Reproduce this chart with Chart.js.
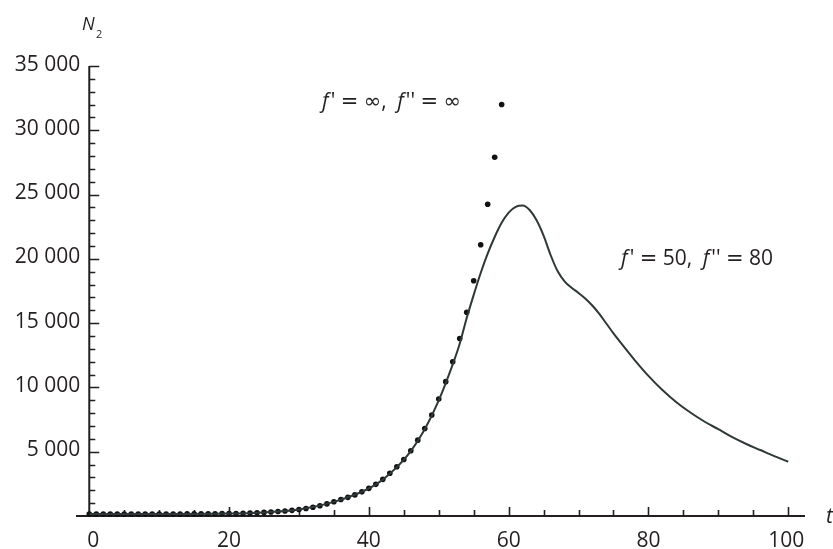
<!DOCTYPE html>
<html>
<head>
<meta charset="utf-8">
<script src="https://cdn.jsdelivr.net/npm/chart.js@4"></script>
<style>
html, body { margin: 0; padding: 0; background: #fff; }
canvas { display: block; }
</style>
</head>
<body>
<canvas id="chart" width="833" height="549"></canvas>
<script>
// f' = inf, f'' = inf  (dots, one per time step)
const dotT = [0, 1, 2, 3, 4, 5, 6, 7, 8, 9, 10, 11, 12, 13, 14, 15, 16, 17, 18, 19,
    20, 21, 22, 23, 24, 25, 26, 27, 28, 29, 30, 31, 32, 33, 34, 35, 36, 37, 38, 39,
    40, 41, 42, 43, 44, 45, 46, 47, 48, 49, 50, 51, 52, 53, 54, 55, 56, 57, 58, 59];
const dotN = [150, 150, 150, 150, 150, 150, 150, 150, 150, 150, 155, 155, 160, 160, 165, 165, 170, 175, 180, 185,
    190, 200, 215, 230, 250, 280, 310, 345, 390, 440, 500, 580, 680, 800, 940, 1110, 1280, 1450, 1640, 1880,
    2150, 2460, 2850, 3320, 3830, 4400, 5080, 5900, 6800, 7850, 9100, 10450, 12000, 13800, 15850, 18300, 21100, 24250, 27900, 32000];

// f' = 50, f'' = 80  (solid curve)
const lineT = [0, 10, 20, 25, 30, 35, 40, 42, 44, 46, 48, 50, 52, 53, 54, 55, 56, 57, 58, 59,
    60, 61, 62, 63, 64, 65, 66, 67, 68, 69, 70, 71, 72, 73, 74, 75, 76, 78, 80, 82,
    84, 86, 88, 90, 92, 94, 96, 98, 100];
const lineN = [150, 155, 190, 280, 500, 1100, 2140, 2830, 3800, 5050, 6750, 9000, 11800, 13400, 15400, 17200, 18900, 20400, 21700, 22800,
    23600, 24050, 24150, 23800, 23000, 21800, 20300, 19050, 18250, 17750, 17350, 16900, 16350, 15700, 14950, 14200, 13500, 12150, 10900, 9800,
    8850, 8050, 7350, 6750, 6130, 5600, 5130, 4660, 4220];

const xTicks = [0, 20, 40, 60, 80, 100];
const xTickLabels = ['0', '20', '40', '60', '80', '100'];
const yTicks = [5000, 10000, 15000, 20000, 25000, 30000, 35000];
const yTickLabels = ['5 000', '10 000', '15 000', '20 000', '25 000', '30 000', '35 000'];

const INK = '#231f20';
const FONT = '"Open Sans", "DejaVu Sans", sans-serif';
const MATH = '"DejaVu Sans", sans-serif';

function toPoints(xs, ys) {
    return xs.map((v, i) => ({ x: v, y: ys[i] }));
}

// mathematica-style axes crossing at the origin, ticks pointing inward
const axesPlugin = {
    id: 'axes',
    beforeDatasetsDraw(chart) {
        const { ctx, scales: { x, y } } = chart;
        const x0 = x.getPixelForValue(0);
        const y0 = y.getPixelForValue(0);
        ctx.save();
        ctx.strokeStyle = INK;
        ctx.lineWidth = 2;
        ctx.beginPath();
        ctx.moveTo(x.left, y0);
        ctx.lineTo(x.right, y0);
        ctx.moveTo(x0, y.getPixelForValue(35000));
        ctx.lineTo(x0, y0 + 1);
        ctx.stroke();

        ctx.lineWidth = 1.6;
        ctx.beginPath();
        for (let v = 5; v <= 100; v += 5) {
            const px = Math.round(x.getPixelForValue(v)) + 0.5;
            const len = v % 20 === 0 ? 9 : 6;
            ctx.moveTo(px, y0);
            ctx.lineTo(px, y0 - len);
        }
        for (let v = 1000; v <= 35000; v += 1000) {
            const py = Math.round(y.getPixelForValue(v)) + 0.5;
            const len = v % 5000 === 0 ? 10 : 6;
            ctx.moveTo(x0, py);
            ctx.lineTo(x0 + len, py);
        }
        ctx.stroke();

        ctx.fillStyle = INK;
        ctx.font = '21px ' + FONT;
        ctx.textAlign = 'right';
        ctx.textBaseline = 'alphabetic';
        yTicks.forEach((v, i) => {
            ctx.fillText(yTickLabels[i], x0 - 9, y.getPixelForValue(v) + 4.5);
        });
        ctx.textAlign = 'center';
        xTicks.forEach((v, i) => {
            const off = v === 0 ? 4 : (v === 100 ? -2 : 0);
            ctx.fillText(xTickLabels[i], x.getPixelForValue(v) + off, y0 + 30.5);
        });

        // axis names
        ctx.textAlign = 'left';
        ctx.font = 'italic 21px ' + FONT;
        ctx.fillText('t', 826, y0 + 7);
        ctx.font = 'italic 18px ' + FONT;
        ctx.fillText('N', 82, 30);
        ctx.font = '11px ' + FONT;
        ctx.fillText('2', 96, 38);
        ctx.restore();
    },
    afterDraw(chart) {
        const ctx = chart.ctx;
        const drawLabel = (parts, left, base) => {
            let cx = left;
            parts.forEach(([txt, style]) => {
                if (style === 'i') ctx.font = 'italic 21px ' + FONT;
                else if (style === 'm') ctx.font = '21px ' + MATH;
                else ctx.font = '21px ' + FONT;
                ctx.fillText(txt, cx, base);
                cx += ctx.measureText(txt).width;
            });
        };
        ctx.save();
        ctx.fillStyle = INK;
        ctx.textAlign = 'left';
        ctx.textBaseline = 'alphabetic';
        drawLabel([['f', 'i'], ["\u200A' ", ''], ['=', 'm'], [' ', ''], ['\u221E', 'm'], [',\u2002', ''],
            ['f', 'i'], ["\u200A'' ", ''], ['=', 'm'], [' ', ''], ['\u221E', 'm']], 322, 108);
        drawLabel([['f', 'i'], ["\u200A' ", ''], ['=', 'm'], [' ', ''], ['50', ''], [',\u2002', ''],
            ['f', 'i'], ["\u200A'' ", ''], ['=', 'm'], [' ', ''], ['80', '']], 621, 265);
        ctx.restore();
    }
};

new Chart(document.getElementById('chart'), {
    type: 'scatter',
    data: {
        datasets: [
            {
                label: "f' = 50, f'' = 80",
                data: toPoints(lineT, lineN),
                showLine: true,
                borderColor: '#2f3838',
                borderWidth: 2,
                pointRadius: 0,
                cubicInterpolationMode: 'monotone',
                clip: false
            },
            {
                label: "f' = \u221E, f'' = \u221E",
                data: toPoints(dotT, dotN),
                showLine: false,
                backgroundColor: '#111',
                borderWidth: 0,
                pointRadius: 2.8,
                clip: false
            }
        ]
    },
    options: {
        responsive: false,
        animation: false,
        devicePixelRatio: 1,
        layout: { padding: { left: 76, right: 28, top: 66, bottom: 33 } },
        plugins: { legend: { display: false }, tooltip: { enabled: false } },
        scales: {
            x: { type: 'linear', min: -1.9, max: 102.4, display: false },
            y: { type: 'linear', min: 0, max: 35000, display: false }
        }
    },
    plugins: [axesPlugin]
});
</script>
</body>
</html>
